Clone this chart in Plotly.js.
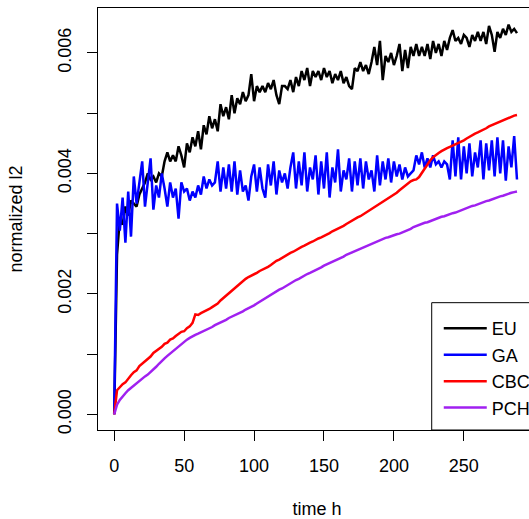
<!DOCTYPE html>
<html>
<head>
<meta charset="utf-8">
<script src="https://cdn.plot.ly/plotly-3.0.1.min.js"></script>
<style>
html, body { margin: 0; padding: 0; overflow: hidden; background: #fff; width: 529px; height: 519px; }
#chart { width: 545px; height: 519px; }
</style>
</head>
<body>
<div id="chart"></div>
<script>
// time in hours
var hours = [0,2,4,6,8,10,12,14,16,18,20,22,24,26,28,30,32,34,36,38,40,42,44,46,48,50,52,54,56,58,
60,62,64,66,68,70,72,74,76,78,80,82,84,86,88,90,92,94,96,98,100,102,104,106,108,110,112,114,116,118,
120,122,124,126,128,130,132,134,136,138,140,142,144,146,148,150,152,154,156,158,160,162,164,166,168,170,172,174,176,178,
180,182,184,186,188,190,192,194,196,198,200,202,204,206,208,210,212,214,216,218,220,222,224,226,228,230,232,234,236,238,
240,242,244,246,248,250,252,254,256,258,260,262,264,266,268,270,272,274,276,278,280,282,284,286,288];

// normalized l2, in units of 1e-3
var EU = [0,2.65,3.25,3.15,3.45,3.3,3.55,3.5,3.45,3.65,3.75,3.85,4.0,3.9,3.95,3.85,4.0,3.95,4.2,4.35,4.2,4.3,4.2,4.45,4.3,4.1,4.5,4.35,4.6,4.45,
4.7,4.4,4.8,4.65,4.95,4.75,4.9,4.7,5.15,4.95,5.1,4.9,5.3,5.0,5.25,5.15,5.35,5.2,5.3,5.65,5.2,5.45,5.35,5.45,5.35,5.5,5.4,5.55,5.3,5.15,
5.45,5.45,5.4,5.55,5.35,5.6,5.45,5.7,5.55,5.75,5.45,5.7,5.6,5.7,5.55,5.75,5.6,5.7,5.5,5.65,5.55,5.7,5.5,5.6,5.45,5.4,5.75,5.7,5.85,5.7,
5.8,5.65,5.85,6.1,5.8,6.2,5.55,5.95,5.85,6.0,5.8,5.95,6.15,5.7,6.05,5.75,6.1,5.95,6.15,5.95,6.1,5.95,6.15,5.9,6.2,6.0,6.15,5.95,6.2,6.05,
6.25,6.38,6.2,6.25,6.15,6.3,6.25,6.1,6.3,6.2,6.35,6.2,6.35,6.15,6.45,6.3,6.02,6.35,6.25,6.4,6.3,6.47,6.35,6.4,6.33];

var GA = [0,3.5,3.05,3.6,2.85,3.7,2.95,3.95,3.5,3.85,4.2,3.45,3.9,4.25,3.4,3.8,3.6,4.0,3.75,3.45,3.85,3.6,3.75,3.25,3.85,3.7,3.75,3.55,3.7,3.6,
3.8,3.65,3.95,3.75,3.9,3.8,3.85,4.2,3.7,4.1,3.75,4.15,3.7,4.2,3.65,4.05,3.7,3.8,3.55,3.95,4.15,3.7,4.1,3.75,3.6,4.15,3.8,4.2,3.65,4.05,
3.85,4.0,3.75,4.1,4.35,3.75,4.2,3.8,4.35,3.7,4.1,3.9,4.3,3.65,4.2,3.75,4.35,3.6,4.1,3.85,4.4,3.7,4.05,3.9,4.25,3.7,4.2,3.8,4.25,3.75,
4.2,3.9,4.05,3.7,4.3,3.8,4.2,3.9,4.25,3.85,4.2,3.95,4.15,3.9,4.1,3.95,4.0,4.05,4.3,4.15,4.35,4.1,4.25,4.1,4.3,4.15,4.2,4.1,4.2,4.15,
3.9,4.55,3.95,4.6,3.9,4.45,4.0,4.5,3.95,4.35,4.1,4.55,3.9,4.5,4.05,4.55,3.95,4.6,4.0,4.55,3.88,4.45,4.1,4.62,3.9];

var CBC = [0,0.4,0.45,0.5,0.53,0.6,0.65,0.7,0.73,0.8,0.84,0.88,0.93,0.96,1.02,1.05,1.09,1.12,1.17,1.19,1.24,1.26,1.3,1.33,1.37,1.38,1.43,1.46,1.52,1.66,
1.65,1.68,1.7,1.73,1.75,1.78,1.81,1.84,1.89,1.93,1.97,2.01,2.06,2.1,2.14,2.17,2.21,2.25,2.28,2.3,2.33,2.35,2.38,2.4,2.42,2.45,2.48,2.52,2.55,2.57,
2.6,2.62,2.65,2.68,2.7,2.73,2.75,2.78,2.8,2.83,2.85,2.87,2.9,2.92,2.94,2.96,2.99,3.01,3.04,3.06,3.09,3.11,3.13,3.16,3.19,3.21,3.24,3.27,3.29,3.32,
3.34,3.37,3.4,3.43,3.46,3.49,3.52,3.55,3.58,3.61,3.64,3.68,3.72,3.76,3.8,3.84,3.87,3.89,3.9,3.94,4.01,4.09,4.16,4.22,4.27,4.31,4.34,4.37,4.4,4.42,
4.44,4.46,4.48,4.5,4.52,4.55,4.58,4.61,4.63,4.66,4.68,4.7,4.73,4.75,4.78,4.8,4.82,4.85,4.87,4.89,4.91,4.93,4.95,4.96,4.97];

var PCH = [0,0.16,0.24,0.3,0.35,0.4,0.44,0.47,0.51,0.55,0.59,0.63,0.66,0.7,0.74,0.79,0.84,0.89,0.93,0.97,1.01,1.05,1.08,1.12,1.16,1.2,1.24,1.27,1.3,1.32,
1.34,1.36,1.38,1.41,1.43,1.45,1.48,1.5,1.53,1.55,1.57,1.6,1.62,1.64,1.67,1.69,1.71,1.74,1.76,1.79,1.81,1.84,1.87,1.9,1.92,1.95,1.98,2.01,2.04,2.07,
2.09,2.12,2.15,2.17,2.2,2.23,2.25,2.28,2.31,2.33,2.35,2.37,2.4,2.42,2.44,2.47,2.49,2.51,2.54,2.56,2.58,2.6,2.62,2.65,2.67,2.69,2.71,2.73,2.75,2.77,
2.79,2.81,2.83,2.85,2.87,2.9,2.92,2.93,2.94,2.96,2.97,2.99,3.0,3.02,3.03,3.05,3.08,3.11,3.13,3.15,3.16,3.18,3.19,3.21,3.23,3.25,3.26,3.28,3.29,3.31,
3.32,3.34,3.35,3.37,3.39,3.41,3.42,3.44,3.46,3.47,3.49,3.5,3.52,3.54,3.55,3.57,3.59,3.6,3.62,3.63,3.65,3.66,3.68,3.69,3.7];

var SCALE = 0.001;
var seriesNames = ["EU", "GA", "CBC", "PCH"];
var seriesData = [EU, GA, CBC, PCH];
var seriesColors = ["#000000", "#0000FF", "#FF0000", "#A020F0"];

var traces = seriesData.map(function (vals, i) {
  return {
    x: hours,
    y: vals.map(function (v) { return v * SCALE; }),
    type: "scatter",
    mode: "lines",
    name: seriesNames[i],
    legendgroup: seriesNames[i],
    line: { color: seriesColors[i], width: 2.5 }
  };
});

var fontFam = "Liberation Sans, Arial, Helvetica, sans-serif";
var txt = { family: fontFam, size: 18, color: "#000000" };

var layout = {
  width: 545,
  height: 519,
  margin: { l: 98, r: 9, t: 8, b: 89, pad: 0 },
  paper_bgcolor: "#ffffff",
  plot_bgcolor: "#ffffff",
  font: txt,
  showlegend: true,
  legend: {
    x: 0.778, xanchor: "left",
    y: 0.284, yanchor: "top",
    bgcolor: "rgba(0,0,0,0)",
    borderwidth: 0,
    font: txt,
    tracegroupgap: 0,
    itemwidth: 43
  },
  shapes: [{
    type: "rect", xref: "paper", yref: "paper",
    x0: 0.7619, x1: 1.2, y0: 0, y1: 0.3017,
    line: { color: "#000000", width: 1 },
    fillcolor: "#ffffff",
    layer: "above"
  }],
  xaxis: {
    range: [-11.6, 301.6],
    showgrid: false,
    zeroline: false,
    showline: true,
    mirror: true,
    linecolor: "#000000",
    linewidth: 1,
    ticks: "outside",
    ticklen: 10,
    tickcolor: "#000000",
    tickmode: "linear",
    tick0: 0,
    dtick: 50,
    ticklabelstandoff: 9,
    tickfont: txt,
    title: { text: "time h", font: txt, standoff: 30 },
    automargin: false
  },
  yaxis: {
    range: [-0.00026, 0.006747],
    showgrid: false,
    zeroline: false,
    showline: true,
    mirror: true,
    linecolor: "#000000",
    linewidth: 1,
    ticks: "outside",
    ticklen: 10,
    tickcolor: "#000000",
    tickmode: "linear",
    tick0: 0,
    dtick: 0.002,
    tickformat: ".3f",
    tickangle: -90,
    ticklabelstandoff: 9,
    tickfont: txt,
    minor: { dtick: 0.001, ticks: "outside", ticklen: 10, tickcolor: "#000000", showgrid: false },
    title: { text: "normalized l2", font: txt, standoff: 27 },
    automargin: false
  }
};

Plotly.newPlot("chart", traces, layout, { displayModeBar: false, staticPlot: true });
</script>
</body>
</html>
